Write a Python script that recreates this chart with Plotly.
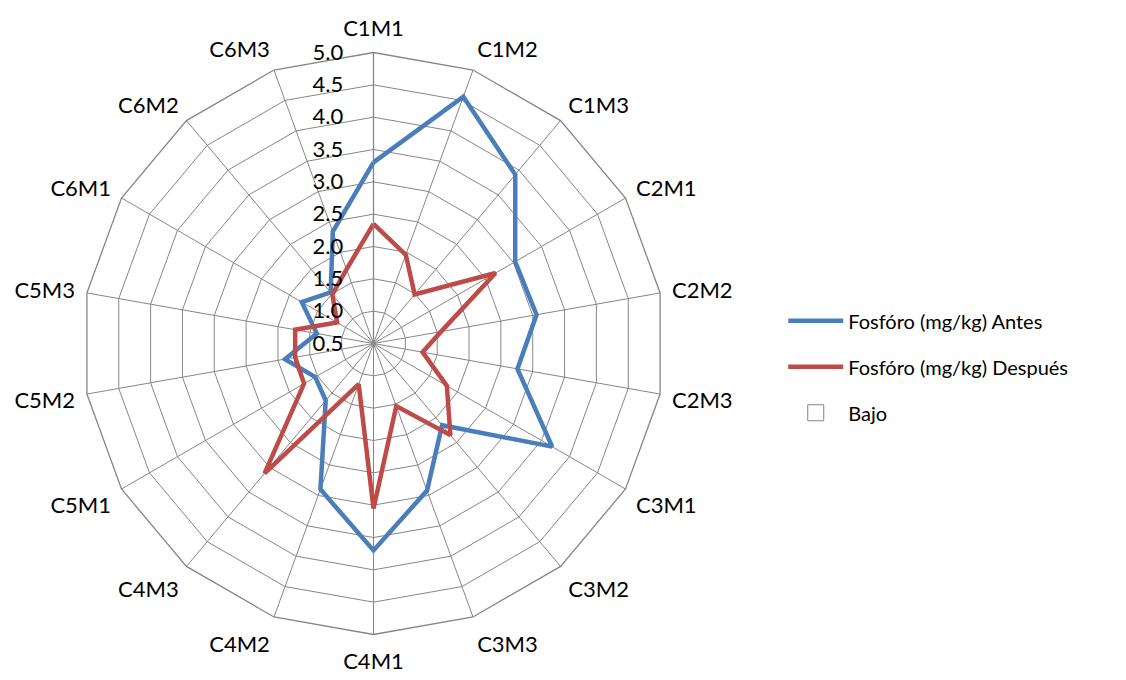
import plotly.graph_objects as go

categories = ["C1M1", "C1M2", "C1M3", "C2M1", "C2M2", "C2M3",
              "C3M1", "C3M2", "C3M3", "C4M1", "C4M2", "C4M3",
              "C5M1", "C5M2", "C5M3", "C6M1", "C6M2", "C6M3"]

antes = [3.30, 4.56, 3.91, 3.03, 3.06, 2.76,
         3.69, 2.15, 2.92, 3.70, 2.90, 1.65,
         1.54, 1.89, 1.39, 1.78, 1.53, 2.34]

despues = [2.35, 1.96, 1.49, 2.68, 1.56, 1.27,
           1.81, 2.35, 1.53, 3.05, 1.17, 3.12,
           1.74, 1.73, 1.73, 1.15, 1.49, 1.72]

radial_ticks = [0.5, 1.0, 1.5, 2.0, 2.5, 3.0, 3.5, 4.0, 4.5, 5.0]

name_antes = "Fosfóro (mg/kg) Antes"
name_despues = "Fosfóro (mg/kg) Después"
name_bajo = "Bajo"

BLUE = "#4A7EBB"
RED = "#BE4B48"
GRID = "#868686"
FONT = "Lato"


def closed(vals):
    return list(vals) + [vals[0]]


fig = go.Figure()
fig.add_trace(go.Scatterpolar(
    r=closed(antes), theta=closed(categories), mode="lines",
    name=name_antes, line=dict(color=BLUE, width=4.5),
    legendgroup="a"))
fig.add_trace(go.Scatterpolar(
    r=closed(despues), theta=closed(categories), mode="lines",
    name=name_despues, line=dict(color=RED, width=4.5),
    legendgroup="b"))
fig.add_trace(go.Scatterpolar(
    r=[None] * len(categories), theta=categories, mode="markers",
    marker=dict(symbol="square-open", size=16, color=GRID,
                line=dict(width=1)),
    name=name_bajo, legendgroup="c", showlegend=True))

fig.update_layout(
    width=1126, height=680,
    margin=dict(l=0, r=0, t=0, b=0),
    paper_bgcolor="white",
    font=dict(family=FONT, color="black"),
    polar=dict(
        domain=dict(x=[82.5 / 1126, 664.5 / 1126], y=[45.5 / 680, 627.5 / 680]),
        bgcolor="white",
        gridshape="linear",
        angularaxis=dict(
            type="category",
            categoryarray=categories,
            rotation=90,
            direction="clockwise",
            showline=True, linecolor=GRID, linewidth=1.3,
            gridcolor=GRID, gridwidth=1.3,
            ticks="outside", ticklen=7, tickcolor="rgba(0,0,0,0)",
            tickfont=dict(family=FONT, size=22, color="black"),
        ),
        radialaxis=dict(
            range=[0.5, 5.0],
            tickvals=radial_ticks,
            tickformat=".1f",
            angle=90,
            side="counterclockwise",
            tickangle=90,
            showline=True, linecolor=GRID, linewidth=1.3,
            gridcolor=GRID, gridwidth=1.3,
            ticks="outside", ticklen=22, tickcolor="rgba(0,0,0,0)",
            tickfont=dict(family=FONT, size=22, color="black"),
        ),
    ),
    legend=dict(
        x=0.6956, y=0.557, xanchor="left", yanchor="top",
        font=dict(family=FONT, size=20, color="black"),
        traceorder="grouped", tracegroupgap=17,
        itemwidth=55,
        bgcolor="rgba(0,0,0,0)",
    ),
    showlegend=True,
)

fig.write_html("out.html", config={"displayModeBar": False},
               post_script="document.body.style.margin='0px';")
